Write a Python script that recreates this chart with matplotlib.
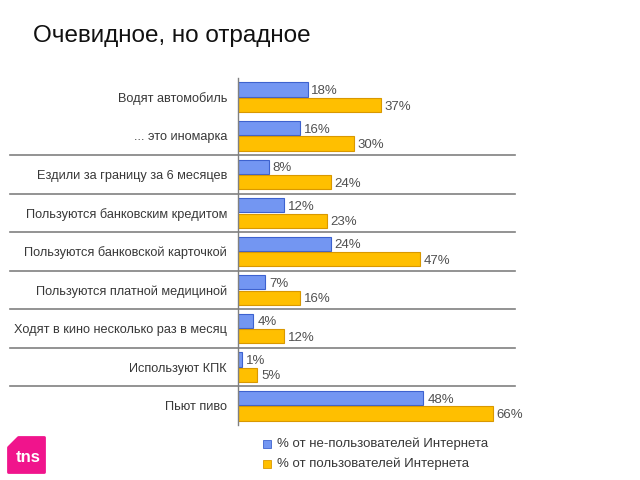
import matplotlib
matplotlib.use("Agg")
import matplotlib.pyplot as plt
import matplotlib.transforms as mtransforms
from matplotlib.patches import Polygon, Rectangle
import numpy as np

plt.rcParams['font.family'] = ['Liberation Sans', 'DejaVu Sans']

categories = ["Водят автомобиль", "... это иномарка", "Ездили за границу за 6 месяцев",
              "Пользуются банковским кредитом", "Пользуются банковской карточкой",
              "Пользуются платной медициной", "Ходят в кино несколько раз в месяц",
              "Используют КПК", "Пьют пиво"]
non_users = [18, 16, 8, 12, 24, 7, 4, 1, 48]
users = [37, 30, 24, 23, 47, 16, 12, 5, 66]
series_names = ["% от не-пользователей Интернета", "% от пользователей Интернета"]
title = "Очевидное, но отрадное"

W, H = 640, 480
fig = plt.figure(figsize=(6.4, 4.8), dpi=100)
ax_l, ax_r, ax_t, ax_b = 238, 515, 78, 425
ax = fig.add_axes([ax_l / W, 1 - ax_b / H, (ax_r - ax_l) / W, (ax_b - ax_t) / H])

px_per_pct = (493 - 238) / 66.0
ax.set_xlim(0, (ax_r - ax_l) / px_per_pct)
n = len(categories)
ax.set_ylim(n - 0.5, -0.5)

y = np.arange(n)
bh = 0.37
blue, blue_e = '#7396f2', '#3d62cf'
orange, orange_e = '#ffbf00', '#d99800'
ax.barh(y - 0.2, non_users, height=bh, color=blue, edgecolor=blue_e, linewidth=0.8)
ax.barh(y + 0.2, users, height=bh, color=orange, edgecolor=orange_e, linewidth=0.8)

for i in range(n):
    ax.text(non_users[i] + 1.0, y[i] - 0.16, f"{non_users[i]}%", va='center', ha='left',
            fontsize=9.5, color='#505050')
    ax.text(users[i] + 1.0, y[i] + 0.24, f"{users[i]}%", va='center', ha='left',
            fontsize=9.5, color='#505050')

ax.set_yticks(y)
ax.set_yticklabels(categories, fontsize=9.2, color='#383838')
ax.tick_params(axis='y', length=0, pad=8)
ax.set_xticks([])
for s in ['top', 'right', 'bottom']:
    ax.spines[s].set_visible(False)
ax.spines['left'].set_color('#808080')
ax.spines['left'].set_linewidth(1.0)

# separators
tr = mtransforms.blended_transform_factory(fig.transFigure, ax.transData)
for k in range(1, n - 1):
    ax.plot([10 / W, ax_r / W], [k + 0.5, k + 0.5], transform=tr, color='#808080',
            linewidth=1.2, clip_on=False)

# title
fig.text(33 / W, 1 - 36 / H, title, fontsize=17.5, va='center', ha='left', color='#111111')

# legend
for j, (c, e) in enumerate([(blue, blue_e), (orange, orange_e)]):
    yy = 444 + j * 20
    fig.patches.append(Rectangle((263 / W, 1 - (yy + 4) / H), 8 / W, 8 / H,
                                 transform=fig.transFigure, facecolor=c, edgecolor=e, linewidth=0.6))
    fig.text(277 / W, 1 - yy / H, series_names[j], fontsize=9.5, va='center', ha='left', color='#383838')

# tns logo
pts = [(18, 437), (44, 437), (44, 472), (8, 472), (8, 447)]
fig.patches.append(Polygon([(x / W, 1 - yv / H) for x, yv in pts], closed=True,
                           transform=fig.transFigure, facecolor='#f0148c', edgecolor='#f0148c',
                           linewidth=2, joinstyle='round'))
fig.text(28 / W, 1 - 457 / H, "tns", fontsize=12, fontweight='bold', color='white',
         ha='center', va='center')

fig.savefig("out.png", dpi=100)
